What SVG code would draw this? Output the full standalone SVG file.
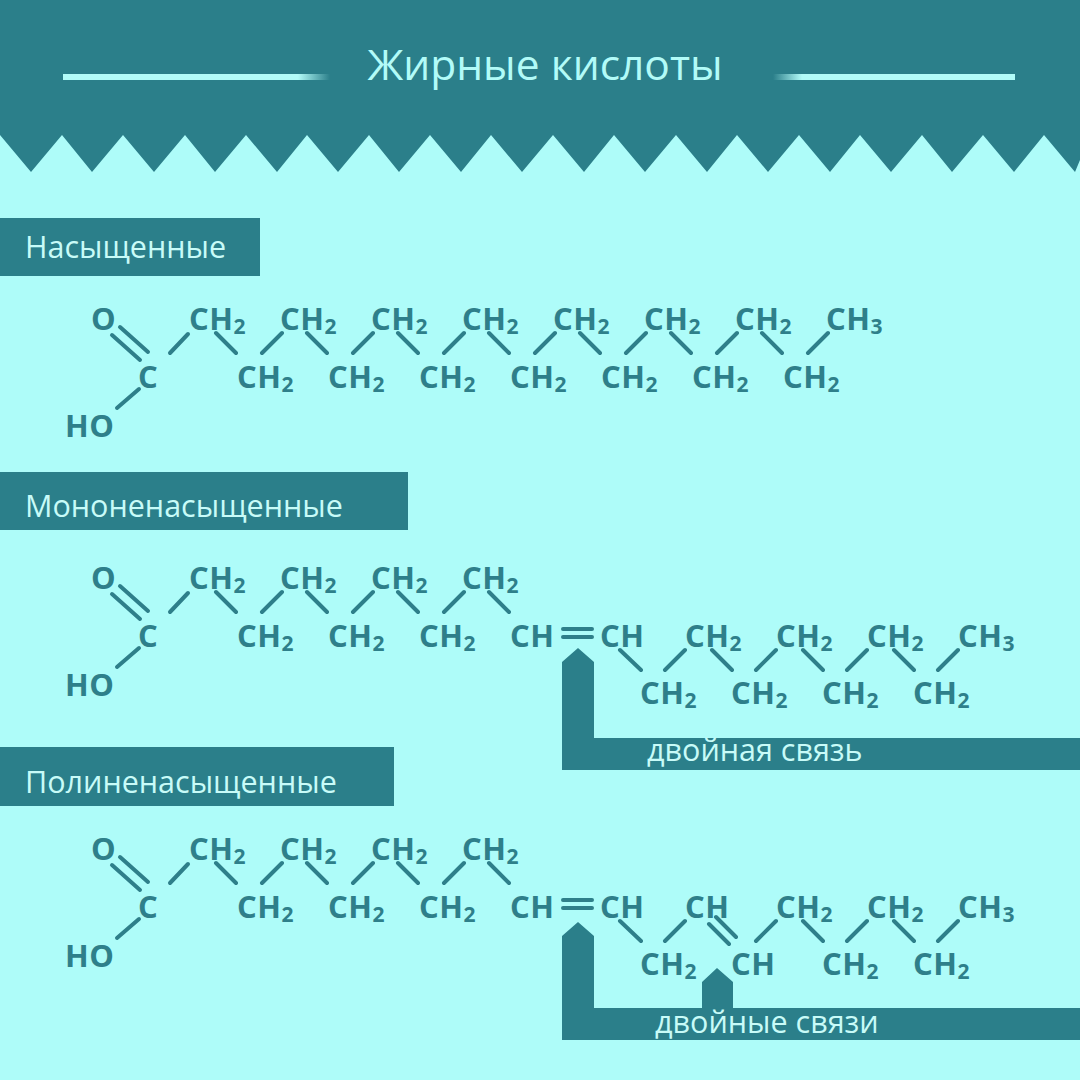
<svg xmlns="http://www.w3.org/2000/svg" width="1080" height="1080" viewBox="0 0 1080 1080">
<defs>
<linearGradient id="fl" x1="0" x2="1"><stop offset="0.88" stop-color="#b2fbf8"/><stop offset="1" stop-color="#b2fbf8" stop-opacity="0"/></linearGradient>
<linearGradient id="fr" x1="1" x2="0"><stop offset="0.88" stop-color="#b2fbf8"/><stop offset="1" stop-color="#b2fbf8" stop-opacity="0"/></linearGradient>
</defs>
<style>
.m{font-family:"Open Sans","DejaVu Sans",sans-serif;font-weight:700;font-size:31px;letter-spacing:0.5px;fill:#2e7f8a}
.s{font-size:21px}
.b{stroke:#2e7f8a;stroke-width:4;stroke-linecap:round;fill:none}
.lbl{font-family:"Open Sans","DejaVu Sans",sans-serif;font-size:30.5px;fill:#c8fbf8}
.dk{fill:#2b7f8a}
</style>
<rect width="1080" height="1080" fill="#aefcf9"/>
<g id="header">
<path class="dk" d="M0 0H1080V160L1075 172L1044 135L1014 172L983 135L952 172L922 135L891 172L860 135L830 172L799 135L768 172L737 135L707 172L676 135L645 172L614 135L584 172L553 135L522 172L491 135L461 172L430 135L399 172L369 135L338 172L307 135L277 172L246 135L215 172L185 135L154 172L123 135L92 172L62 135L31 172L0 135Z"/>
<rect x="63" y="74" width="267" height="6" fill="url(#fl)"/>
<rect x="773" y="74" width="242" height="6" fill="url(#fr)"/>
<text x="545" y="80" text-anchor="middle" font-family="Open Sans,DejaVu Sans,sans-serif" font-size="42.5" fill="#b2fbf8">Жирные кислоты</text>
</g>
<g id="label1"><rect class="dk" x="0" y="218" width="260" height="58"/><text class="lbl" x="25" y="258">Насыщенные</text></g>
<g id="label2"><rect class="dk" x="0" y="472" width="408" height="58"/><text class="lbl" x="25" y="517">Мононенасыщенные</text></g>
<g id="label3"><rect class="dk" x="0" y="747" width="394" height="59"/><text class="lbl" x="25" y="793">Полиненасыщенные</text></g>

<g id="mol1" class="m">
<text x="91" y="330">O</text><text x="138" y="388">C</text><text x="65" y="437">HO</text>
<text x="189" y="330">CH<tspan class="s" dy="4">2</tspan></text>
<text x="280" y="330">CH<tspan class="s" dy="4">2</tspan></text>
<text x="371" y="330">CH<tspan class="s" dy="4">2</tspan></text>
<text x="462" y="330">CH<tspan class="s" dy="4">2</tspan></text>
<text x="553" y="330">CH<tspan class="s" dy="4">2</tspan></text>
<text x="644" y="330">CH<tspan class="s" dy="4">2</tspan></text>
<text x="735" y="330">CH<tspan class="s" dy="4">2</tspan></text>
<text x="826" y="330">CH<tspan class="s" dy="4">3</tspan></text>
<text x="237" y="388">CH<tspan class="s" dy="4">2</tspan></text>
<text x="328" y="388">CH<tspan class="s" dy="4">2</tspan></text>
<text x="419" y="388">CH<tspan class="s" dy="4">2</tspan></text>
<text x="510" y="388">CH<tspan class="s" dy="4">2</tspan></text>
<text x="601" y="388">CH<tspan class="s" dy="4">2</tspan></text>
<text x="692" y="388">CH<tspan class="s" dy="4">2</tspan></text>
<text x="783" y="388">CH<tspan class="s" dy="4">2</tspan></text>
</g>

<g id="mol2" class="m">
<text x="91" y="589">O</text><text x="138" y="647">C</text><text x="65" y="696">HO</text>
<text x="189" y="589">CH<tspan class="s" dy="4">2</tspan></text>
<text x="280" y="589">CH<tspan class="s" dy="4">2</tspan></text>
<text x="371" y="589">CH<tspan class="s" dy="4">2</tspan></text>
<text x="462" y="589">CH<tspan class="s" dy="4">2</tspan></text>
<text x="237" y="647">CH<tspan class="s" dy="4">2</tspan></text>
<text x="328" y="647">CH<tspan class="s" dy="4">2</tspan></text>
<text x="419" y="647">CH<tspan class="s" dy="4">2</tspan></text>
<text x="510" y="647">CH</text><text x="600" y="647">CH</text>
<text x="685" y="647">CH<tspan class="s" dy="4">2</tspan></text>
<text x="776" y="647">CH<tspan class="s" dy="4">2</tspan></text>
<text x="867" y="647">CH<tspan class="s" dy="4">2</tspan></text>
<text x="958" y="647">CH<tspan class="s" dy="4">3</tspan></text>
<text x="640" y="704">CH<tspan class="s" dy="4">2</tspan></text>
<text x="731" y="704">CH<tspan class="s" dy="4">2</tspan></text>
<text x="822" y="704">CH<tspan class="s" dy="4">2</tspan></text>
<text x="913" y="704">CH<tspan class="s" dy="4">2</tspan></text>
</g>

<g id="mol3" class="m">
<text x="91" y="860">O</text><text x="138" y="918">C</text><text x="65" y="967">HO</text>
<text x="189" y="860">CH<tspan class="s" dy="4">2</tspan></text>
<text x="280" y="860">CH<tspan class="s" dy="4">2</tspan></text>
<text x="371" y="860">CH<tspan class="s" dy="4">2</tspan></text>
<text x="462" y="860">CH<tspan class="s" dy="4">2</tspan></text>
<text x="237" y="918">CH<tspan class="s" dy="4">2</tspan></text>
<text x="328" y="918">CH<tspan class="s" dy="4">2</tspan></text>
<text x="419" y="918">CH<tspan class="s" dy="4">2</tspan></text>
<text x="510" y="918">CH</text><text x="600" y="918">CH</text>
<text x="685" y="918">CH</text>
<text x="776" y="918">CH<tspan class="s" dy="4">2</tspan></text>
<text x="867" y="918">CH<tspan class="s" dy="4">2</tspan></text>
<text x="958" y="918">CH<tspan class="s" dy="4">3</tspan></text>
<text x="640" y="975">CH<tspan class="s" dy="4">2</tspan></text>
<text x="731" y="975">CH</text>
<text x="822" y="975">CH<tspan class="s" dy="4">2</tspan></text>
<text x="913" y="975">CH<tspan class="s" dy="4">2</tspan></text>
</g>

<g id="connectors" class="b">
<path d="M112 335L140 360M120 327L148 352M139 389L117 408M170 353L188 334"/>
<path d="M216 333L236 353M307 333L327 353M398 333L418 353M489 333L509 353M580 333L600 353M671 333L691 353M762 333L782 353"/>
<path d="M262 353L282 333M353 353L373 333M444 353L464 333M535 353L555 333M626 353L646 333M717 353L737 333M808 353L828 333"/>
<path d="M112 594L140 619M120 586L148 611M139 648L117 667M170 612L188 593"/>
<path d="M216 592L236 612M307 592L327 612M398 592L418 612M489 592L509 612M262 612L282 592M353 612L373 592M444 612L464 592"/>
<path d="M563 629H592M563 637H592"/>
<path d="M620 650L641 670M712 650L732 670M803 650L823 670M894 650L914 670M665 670L685 650M756 670L776 650M847 670L867 650M938 670L958 650"/>
<path d="M112 865L140 890M120 857L148 882M139 919L117 938M170 883L188 864"/>
<path d="M216 863L236 883M307 863L327 883M398 863L418 883M489 863L509 883M262 883L282 863M353 883L373 863M444 883L464 863"/>
<path d="M563 900H592M563 908H592"/>
<path d="M620 921L641 941M709 924L729 944M716 917L736 937M803 921L823 941M894 921L914 941M665 941L685 921M756 941L776 921M847 941L867 921M938 941L958 921"/>
</g>

<g id="callout1">
<path class="dk" d="M578 648L594 662V738H1080V770H562V662Z"/>
<text class="lbl" x="647" y="761" font-size="27">двойная связь</text>
</g>
<g id="callout2">
<path class="dk" d="M578 922L594 936V1008H702V982L717 968L733 982V1008H1080V1040H562V936Z"/>
<text class="lbl" x="655" y="1033" font-size="27">двойные связи</text>
</g>
</svg>
